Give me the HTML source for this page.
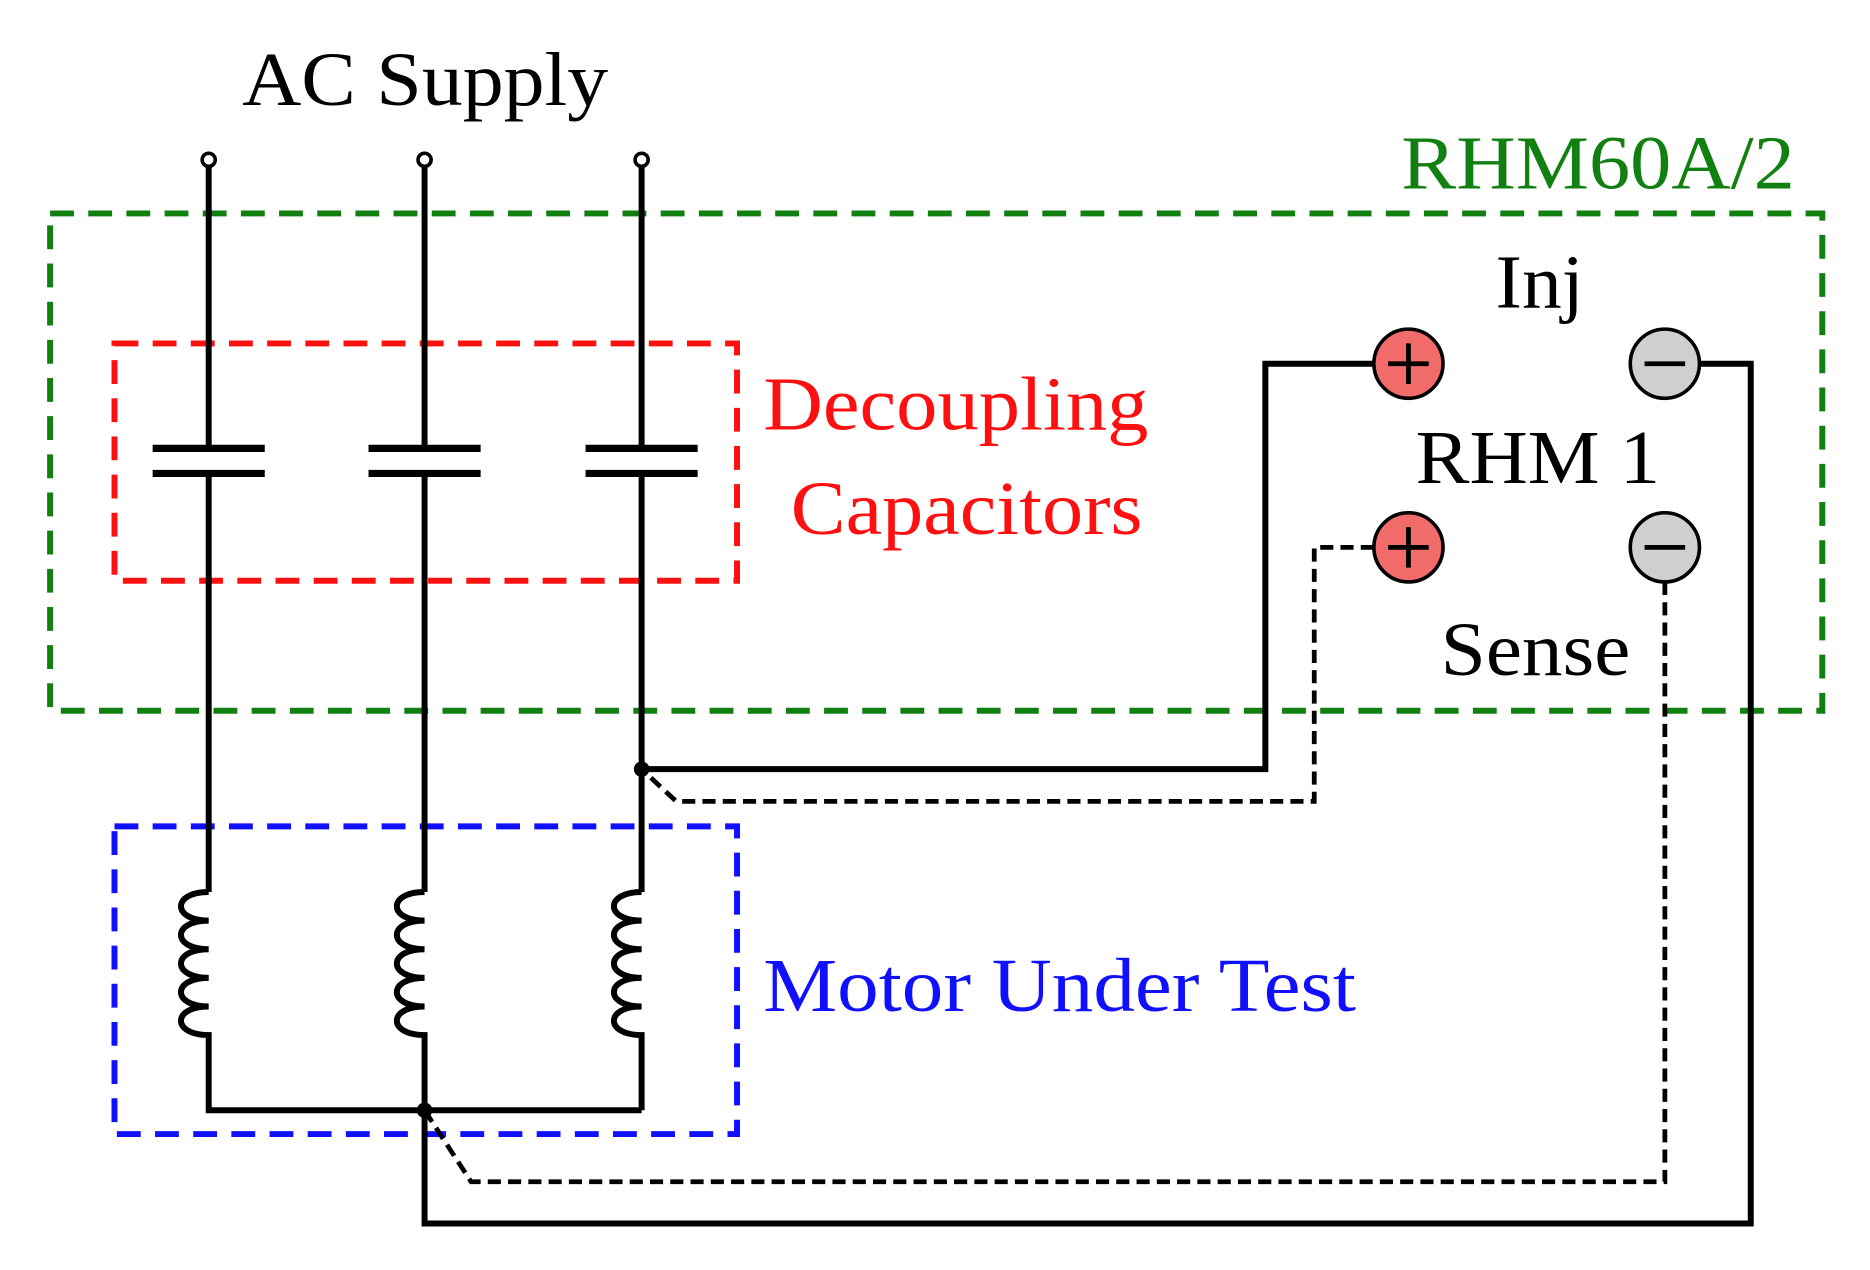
<!DOCTYPE html>
<html><head><meta charset="utf-8"><style>html,body{margin:0;padding:0;background:#fff}svg{display:block}</style></head>
<body>
<svg width="1870" height="1270" viewBox="0 0 1568 1065" preserveAspectRatio="none" xmlns="http://www.w3.org/2000/svg" font-family="Liberation Serif, serif">
<rect width="1568" height="1065" fill="#fff"/>
<g fill="none" stroke-width="5" stroke-dasharray="20 12">
<rect x="42" y="179" width="1486" height="417" stroke="#118011"/>
<rect x="96" y="288" width="522" height="199" stroke="#ff1010"/>
<rect x="96" y="693" width="522" height="258" stroke="#1010ff"/>
</g>
<g stroke="#000" stroke-width="5" fill="none">
<line x1="175" y1="140" x2="175" y2="376"/><line x1="175" y1="397" x2="175" y2="748"/>
<line x1="356" y1="140" x2="356" y2="376"/><line x1="356" y1="397" x2="356" y2="748"/>
<line x1="538" y1="140" x2="538" y2="376"/><line x1="538" y1="397" x2="538" y2="748"/>
<line x1="128" y1="376" x2="222" y2="376" stroke-width="6"/><line x1="128" y1="397" x2="222" y2="397" stroke-width="6"/>
<line x1="309" y1="376" x2="403" y2="376" stroke-width="6"/><line x1="309" y1="397" x2="403" y2="397" stroke-width="6"/>
<line x1="491" y1="376" x2="585" y2="376" stroke-width="6"/><line x1="491" y1="397" x2="585" y2="397" stroke-width="6"/>
<path d="M175 748 c-31 0 -31 24 0 24 c-31 0 -31 24 0 24 c-31 0 -31 24 0 24 c-31 0 -31 24 0 24 c-31 0 -31 24 0 24 L175 931 L538 931"/>
<path d="M356 748 c-31 0 -31 24 0 24 c-31 0 -31 24 0 24 c-31 0 -31 24 0 24 c-31 0 -31 24 0 24 c-31 0 -31 24 0 24 L356 931"/>
<path d="M538 748 c-31 0 -31 24 0 24 c-31 0 -31 24 0 24 c-31 0 -31 24 0 24 c-31 0 -31 24 0 24 c-31 0 -31 24 0 24 L538 931"/>
<path d="M538 645 H1061 V305 H1152"/>
<path d="M1425 305 H1468 V1026 H356 V931"/>
<path d="M1152 459 H1102 V672 H567 L538 645" stroke-width="4" stroke-dasharray="11 6"/>
<path d="M1396 488 V991 H395 L356 931" stroke-width="4" stroke-dasharray="11 6"/>
</g>
<g fill="#fff" stroke="#000" stroke-width="3">
<circle cx="175" cy="134" r="5.5"/><circle cx="356" cy="134" r="5.5"/><circle cx="538" cy="134" r="5.5"/>
</g>
<circle cx="538" cy="645" r="6.5" fill="#000"/><circle cx="356" cy="931" r="6.5" fill="#000"/>
<g stroke="#000" stroke-width="3">
<circle cx="1181" cy="305" r="29" fill="#f26b6b"/><circle cx="1181" cy="459" r="29" fill="#f26b6b"/>
<circle cx="1396" cy="305" r="29" fill="#cfcfcf"/><circle cx="1396" cy="459" r="29" fill="#cfcfcf"/>
<path d="M1164 305h34M1181 288v34M1164 459h34M1181 442v34M1379 305h34M1379 459h34" stroke-width="4"/>
</g>
<g font-size="64" lengthAdjust="spacingAndGlyphs">
<text x="203" y="88" textLength="307" lengthAdjust="spacingAndGlyphs" fill="#000">AC Supply</text>
<text x="1175" y="158" textLength="330" lengthAdjust="spacingAndGlyphs" fill="#118011">RHM60A/2</text>
<text x="640" y="360" textLength="323" lengthAdjust="spacingAndGlyphs" fill="#ff1010">Decoupling</text>
<text x="663" y="448" textLength="295" lengthAdjust="spacingAndGlyphs" fill="#ff1010">Capacitors</text>
<text x="640" y="848" textLength="497" lengthAdjust="spacingAndGlyphs" fill="#1010ff">Motor Under Test</text>
<text x="1254" y="258" textLength="74" lengthAdjust="spacingAndGlyphs" fill="#000">Inj</text>
<text x="1187" y="405" textLength="205" lengthAdjust="spacingAndGlyphs" fill="#000">RHM 1</text>
<text x="1208" y="566" textLength="159" lengthAdjust="spacingAndGlyphs" fill="#000">Sense</text>
</g>
</svg>
</body></html>
